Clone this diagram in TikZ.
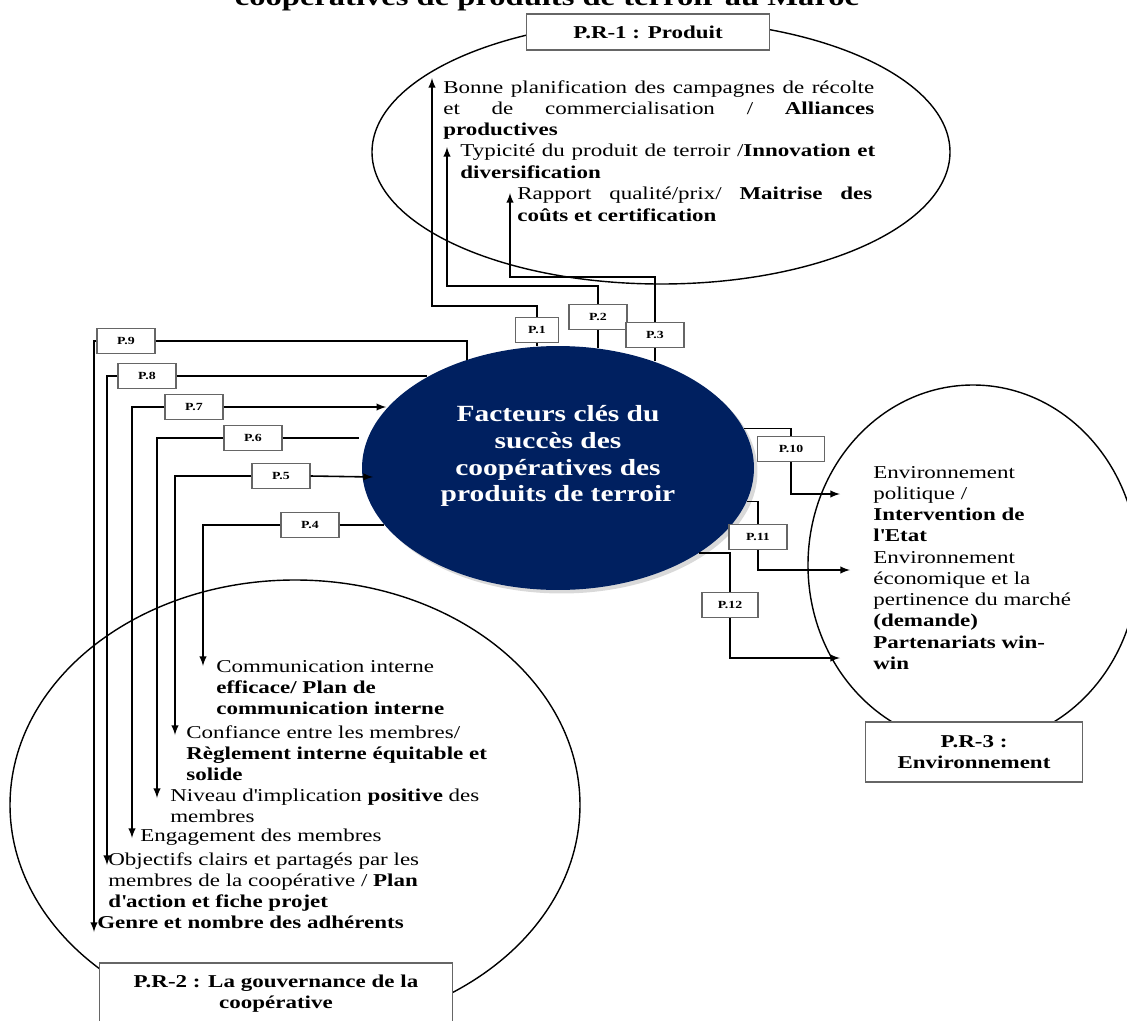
\documentclass[tikz,border=0pt]{standalone}
\usepackage{fontspec}
\setmainfont[FakeStretch=1.27]{Liberation Serif}
\usetikzlibrary{positioning}
\usetikzlibrary{calc}
\usetikzlibrary{shapes.geometric,shadows}
\definecolor{navy}{RGB}{0,32,96}
\hyphenpenalty=10000
\tolerance=9999
\newcommand\apos{\textquotesingle}

\tikzset{
  titre/.style={anchor=base, inner sep=0pt, font=\fontsize{14.6}{16}\selectfont\bfseries},
  group/.style={line width=0.8pt},
  pbox/.style={draw=black!60, fill=white, line width=0.6pt, minimum width=1.16cm, minimum height=0.5cm, inner sep=0pt, font=\fontsize{6.2}{7}\selectfont\bfseries},
  prbox/.style={draw=black!60, fill=white, line width=0.6pt, inner sep=0pt, align=center, font=\fontsize{10.3}{12}\selectfont\bfseries},
  txt/.style={anchor=north west, inner sep=0pt, align=left, font=\fontsize{10.3}{12}\selectfont},
  jtxt/.style={txt, align=justify},
  ctxt/.style={inner sep=0pt, align=center, text=white, font=\fontsize{13.2}{15.3}\selectfont\bfseries},
  link/.style={line width=0.9pt},
}

\begin{document}
\begin{tikzpicture}[x=0.02cm,y=-0.02cm]
\useasboundingbox (0,0) rectangle (1127,1021);

\node[titre](titre) at (547,6){coopératives de produits de terroir au Maroc};

\draw[group](661,152) ellipse [x radius=289, y radius=132];
\draw[group](295,805) ellipse [x radius=285, y radius=225];
\draw[group](973,565) ellipse [x radius=165, y radius=180];

\node[prbox, minimum width=4.86cm, minimum height=0.72cm](PR1) at (648,32){P.R-1 : Produit};
\node[prbox, minimum width=7.06cm, minimum height=1.24cm](PR2) at (276,994){P.R-2 : La gouvernance de la\\coopérative};
\node[prbox, minimum width=4.34cm, minimum height=1.2cm](PR3) at (974,752){P.R-3 :\\Environnement};

\node[ellipse, fill=navy, minimum width=7.84cm, minimum height=4.88cm, inner sep=0pt,
  drop shadow={shadow xshift=2pt, shadow yshift=-2pt, opacity=0.3}](fks) at (558,468){};
\node[ctxt](fkstxt) at ([yshift=0.24cm]fks.center){Facteurs clés du\\succès des\\coopératives des\\produits de terroir};

\node[pbox, minimum width=0.86cm](P1) at (537,330){P.1};
\node[pbox](P2) at (598,317){P.2};
\node[pbox](P3) at (655,335){P.3};
\node[pbox](P4) at (310,525){P.4};
\node[pbox](P5) at (281,476){P.5};
\node[pbox](P6) at (253,438){P.6};
\node[pbox](P7) at (194,407){P.7};
\node[pbox](P8) at (147,376){P.8};
\node[pbox](P9) at (126,341){P.9};
\node[pbox, minimum width=1.34cm](P10) at (791,449){P.10};
\node[pbox](P11) at (758,537){P.11};
\node[pbox, minimum width=1.12cm](P12) at (730,605){P.12};

\node[jtxt, text width=8.62cm](t1) at (443,80){Bonne planification des campagnes de récolte\linebreak et de commercialisation / \textbf{Alliances}\linebreak \textbf{productives}};
\node[jtxt, text width=8.3cm](t2) at (460,144){Typicité du produit de terroir /\textbf{Innovation et diversification}};
\node[jtxt, text width=7.1cm](t3) at (517,187){Rapport qualité/prix/ \textbf{Maitrise des coûts et certification}};

\node[txt](l4) at (216,660){Communication interne\\\textbf{efficace/ Plan de}\\\textbf{communication interne}};
\node[txt](l5) at (186,725){Confiance entre les membres/\\\textbf{Règlement interne équitable et}\\\textbf{solide}};
\node[txt](l6) at (170,789){Niveau d\apos implication \textbf{positive} des\\membres};
\node[txt](l7) at (140,829){Engagement des membres};
\node[txt](l8) at (108,852){Objectifs clairs et partagés par les\\membres de la coopérative / \textbf{Plan}\\\textbf{d\apos action et fiche projet}};
\node[txt](l9) at (97,916){\textbf{Genre et nombre des adhérents}};

\node[txt](e1) at (873,466){Environnement\\politique /\\\textbf{Intervention de}\\\textbf{l\apos Etat}};
\node[txt](e2) at (873,551){Environnement\\économique et la\\pertinence du marché\\\textbf{(demande)}};
\node[txt](e3) at (873,636){\textbf{Partenariats win-}\\\textbf{win}};

\coordinate(a1) at (432,78);
\coordinate(a2) at (447,147);
\coordinate(a3) at (510,193);
\coordinate(a4) at (203,666);
\coordinate(a5) at (175,735);
\coordinate(a6) at (157,798);
\coordinate(a7) at (132,838);
\coordinate(a8) at (107,865);
\coordinate(a9) at (94,932);
\coordinate(a10) at (840,494);
\coordinate(a11) at (850,570);
\coordinate(a12) at (840,658);
\coordinate(c5) at (373,477);
\coordinate(c6) at (359,438);

\draw[link,-latex](P1.north) -- ++(0,-11) -| (a1);
\draw[link,-latex](P2.north) -- ++(0,-18) -| (a2);
\draw[link,-latex](P3.north) -- ++(0,-45) -| (a3);
\draw[link](P1.south) -- (P1.south |- fks.99);
\draw[link](P2.south) -- (P2.south |- fks.71);
\draw[link](P3.south) -- (P3.south |- fks.48);

\draw[link,-latex](P4.west) -| (a4);
\draw[link,-latex](P5.west) -| (a5);
\draw[link,-latex](P6.west) -| (a6);
\draw[link,-latex](P7.west) -| (a7);
\draw[link,-latex](P8.west) -| (a8);
\draw[link,-latex](P9.west) -| (a9);
\draw[link](P4.east) -- (P4.east -| fks.198);
\draw[link,-latex](P5.east) -- (c5);
\draw[link](P6.east) -- (c6);
\draw[link,-latex](P7.east) -- (P7.east -| fks.161);
\draw[link](P8.east) -- (P8.east -| fks.145);
\draw[link](P9.east) -| (fks.130);

\draw[link](fks.12) -| (P10.north);
\draw[link](fks.-10) -| (P11.north);
\draw[link](fks.-31) -| (P12.north);
\draw[link,-latex](P10.south) |- (a10);
\draw[link,-latex](P11.south) |- (a11);
\draw[link,-latex](P12.south) |- (a12);
\end{tikzpicture}
\end{document}
